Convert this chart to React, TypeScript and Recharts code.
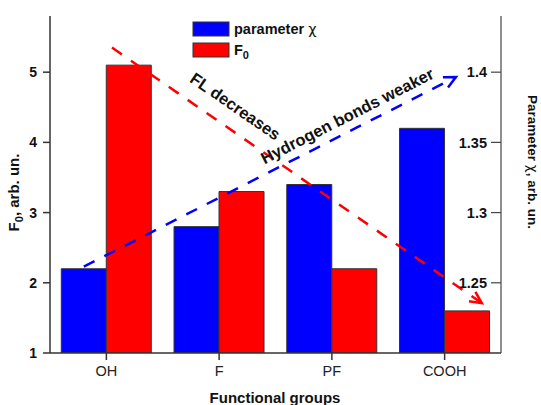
import React from 'react';
import { BarChart, Bar, XAxis, YAxis, ReferenceLine, Customized } from 'recharts';

const groups = ['OH', 'F', 'PF', 'COOH'];
const chiValues = [1.26, 1.29, 1.32, 1.36];
const f0Values = [5.1, 3.3, 2.2, 1.6];
const leftTicks = [1, 2, 3, 4, 5];
const rightTicks = [1.25, 1.3, 1.35, 1.4];
const flArrow = [{ x: 0.05, y: 5.35 }, { x: 3.33, y: 1.71 }];
const hbArrow = [{ x: -0.2, y: 2.23 }, { x: 3.1, y: 4.93 }];

const BLUE = '#0000ff';
const RED = '#ff0000';
const FONT = '"Liberation Sans", Arial, sans-serif';
const GREEK = '"DejaVu Sans", sans-serif';

const data = groups.map((g, i) => ({ group: g, idx: i, chi: chiValues[i], f0: f0Values[i] }));

const arrowShape = (color: string, label: string, frac: number, offset: number) => (props: any) => {
  const { x1, y1, x2, y2 } = props;
  const dx = x2 - x1;
  const dy = y2 - y1;
  const len = Math.hypot(dx, dy) || 1;
  const ux = dx / len;
  const uy = dy / len;
  const ang = Math.atan2(dy, dx);
  const head = 13;
  const spread = 0.45;
  const hx1 = x2 - head * Math.cos(ang - spread);
  const hy1 = y2 - head * Math.sin(ang - spread);
  const hx2 = x2 - head * Math.cos(ang + spread);
  const hy2 = y2 - head * Math.sin(ang + spread);
  const tx = x1 + dx * frac + uy * offset;
  const ty = y1 + dy * frac - ux * offset;
  const deg = (ang * 180) / Math.PI;
  return (
    <g>
      <line x1={x1} y1={y1} x2={x2} y2={y2} stroke={color} strokeWidth={2.5} strokeDasharray="12 11" />
      <polyline points={`${hx1},${hy1} ${x2},${y2} ${hx2},${hy2}`} fill="none" stroke={color} strokeWidth={2.5} />
      <text
        x={tx}
        y={ty}
        transform={`rotate(${deg} ${tx} ${ty})`}
        textAnchor="middle"
        dominantBaseline="central"
        fontFamily={FONT}
        fontWeight="bold"
        fontSize={16.5}
        fill="#111"
      >
        {label}
      </text>
    </g>
  );
};

const Decorations = () => (
  <g fontFamily={FONT} fontWeight="bold" fill="#111">
    <text x={19} y={192.5} transform="rotate(-90 19 192.5)" textAnchor="middle" fontSize={15}>
      F<tspan fontSize={11} dy={4}>0</tspan>
      <tspan dy={-4}>, arb. un.</tspan>
    </text>
    <text x={527.5} y={162} transform="rotate(90 527.5 162)" textAnchor="middle" fontSize={13.5}>
      Parameter <tspan fontFamily={GREEK} fontWeight="normal">χ</tspan>, arb. un.
    </text>
    <text x={275} y={403} textAnchor="middle" fontSize={15}>
      Functional groups
    </text>
    <rect x={193} y={22} width={36} height={14} fill={BLUE} stroke="#333" strokeWidth={1} />
    <text x={234} y={34} fontSize={14.5}>
      parameter <tspan fontFamily={GREEK} fontWeight="normal">χ</tspan>
    </text>
    <rect x={193} y={43} width={36} height={14} fill={RED} stroke="#333" strokeWidth={1} />
    <text x={234} y={55} fontSize={14.5}>
      F<tspan fontSize={11} dy={4}>0</tspan>
    </text>
  </g>
);

export default function App() {
  return (
    <div style={{ position: 'absolute', left: 0, top: 0 }}>
      <BarChart
        width={541}
        height={405}
        data={data}
        margin={{ top: 16, right: 40, bottom: 22, left: 10 }}
        barCategoryGap="10%"
        barGap={0}
        style={{ fontFamily: FONT }}
      >
        <XAxis
          dataKey="group"
          xAxisId="cat"
          tickSize={7}
          tickMargin={6}
          height={30}
          axisLine={{ stroke: '#333', strokeWidth: 1.5 }}
          tickLine={{ stroke: '#333', strokeWidth: 1.5 }}
          tick={{ fill: '#222', fontSize: 14.5, fontFamily: FONT }}
        />
        <XAxis xAxisId="num" dataKey="idx" type="number" domain={[-0.5, 3.5]} hide allowDataOverflow />
        <YAxis
          yAxisId="left"
          domain={[1, 5.8]}
          ticks={leftTicks}
          allowDataOverflow
          width={40}
          tickSize={7}
          tickMargin={6}
          axisLine={{ stroke: '#333', strokeWidth: 1.5 }}
          tickLine={{ stroke: '#333', strokeWidth: 1.5 }}
          tick={{ fill: '#111', fontSize: 14, fontWeight: 'bold', fontFamily: FONT }}
        />
        <YAxis
          yAxisId="right"
          orientation="right"
          mirror
          domain={[1.2, 1.44]}
          ticks={rightTicks}
          allowDataOverflow
          tickSize={10}
          tickMargin={4}
          axisLine={{ stroke: '#444', strokeWidth: 1.2 }}
          tickLine={{ stroke: '#444', strokeWidth: 1.2 }}
          tick={{ fill: '#111', fontSize: 14.5, fontWeight: 'bold', fontFamily: FONT }}
        />
        <Bar dataKey="chi" xAxisId="cat" yAxisId="right" fill={BLUE} stroke="#333" strokeWidth={1} isAnimationActive={false} />
        <Bar dataKey="f0" xAxisId="cat" yAxisId="left" fill={RED} stroke="#333" strokeWidth={1} isAnimationActive={false} />
        <ReferenceLine
          xAxisId="num"
          yAxisId="left"
          segment={flArrow}
          ifOverflow="visible"
          shape={arrowShape(RED, 'FL decreases', 0.3, 22)}
        />
        <ReferenceLine
          xAxisId="num"
          yAxisId="left"
          segment={hbArrow}
          ifOverflow="visible"
          shape={arrowShape(BLUE, 'Hydrogen bonds weaker', 0.726, 15)}
        />
        <Customized component={Decorations} />
      </BarChart>
    </div>
  );
}
